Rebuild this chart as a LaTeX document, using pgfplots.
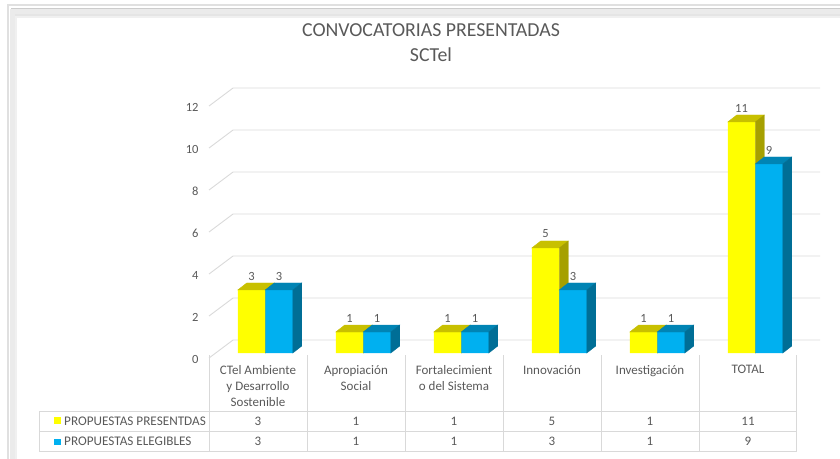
\documentclass[border=0pt]{standalone}
\usepackage{pgfplots}
\pgfplotsset{compat=1.18}
\usepackage{pgfplotstable}
\usepackage{fontspec}
\setmainfont{Carlito}
\definecolor{ylw}{HTML}{FFFF00}
\definecolor{ylwtop}{HTML}{C8C000}
\definecolor{ylwside}{HTML}{A6A000}
\definecolor{blu}{HTML}{00B0F0}
\definecolor{blutop}{HTML}{0084B4}
\definecolor{bluside}{HTML}{006E96}
\definecolor{txt}{HTML}{595959}
\definecolor{grd}{HTML}{D9D9D9}

\pgfplotstableread{
x pres eleg
0 3 3
1 1 1
2 1 1
3 5 3
4 1 1
5 11 9
}\data

\pgfdeclareplotmark{nothing}{}
\pgfplotsset{
  faces/.style n args={5}{%
    scatter, only marks, mark=nothing,
    visualization depends on={\thisrow{#1} \as \val},
    scatter/@pre marker code/.code={%
      \fill[#4] (#2pt,0pt) -- (#3pt,0pt) -- (#3pt+9pt,7pt) -- (#2pt+9pt,7pt) -- cycle;
      \fill[#5] (#3pt,0pt) -- (#3pt+9pt,7pt) -- (#3pt+9pt,7pt-\val*21pt) -- (#3pt,-\val*21pt) -- cycle;
    },
    scatter/@post marker code/.code={},
  },
  vlab/.style 2 args={nodes near coords, point meta=\thisrow{#1},
    every node near coord/.append style={anchor=center, xshift=#2, yshift=14pt, text=txt, font=\fontsize{12.5}{14}\selectfont}},
  rowlab/.style={only marks, mark=nothing, nodes near coords, point meta=\thisrow{#1},
    every node near coord/.append style={anchor=center, text=txt, font=\fontsize{13}{15}\selectfont}},
}

\begin{document}
\begin{tikzpicture}[x=1pt,y=1pt]
\useasboundingbox (0,0) rectangle (840,458);
% chart frame (cropped on right and bottom)
\draw[black!12, line width=1.6pt] (8,-5) -- (8,453) -- (845,453);
\draw[black!6, line width=2pt] (16,-5) -- (16,441) -- (845,441);
\draw[black!10, line width=2pt] (14,-5) -- (14,443) -- (845,443);
\draw[black!20, line width=1.2pt] (12,-5) -- (12,449.5) -- (845,449.5);
\draw[black!8, line width=5pt] (12,-5) -- (12,446.5) -- (845,446.5);
% title
\node[text=txt, font=\fontsize{19.8}{21}\selectfont] at (431,428) {CONVOCATORIAS PRESENTADAS};
\node[text=txt, font=\fontsize{19.8}{21}\selectfont] at (431,403) {SCTel};

\begin{axis}[
  at={(209pt,105pt)}, anchor=south west,
  scale only axis, width=588pt, height=252pt,
  xmin=-0.5, xmax=5.5, ymin=0, ymax=12,
  clip=false, clip marker paths=true,
  axis line style={draw=none},
  ytick={0,2,...,12},
  xtick={0,...,5},
  xticklabels={{CTel Ambiente\\y Desarrollo\\Sostenible},{Apropiación\\Social},{Fortalecimient\\o del Sistema},Innovación,Investigación,TOTAL},
  tick style={draw=none},
  /pgf/number format/assume math mode=true,
  yticklabel style={text=txt, font=\fontsize{12.5}{14}\selectfont, xshift=-7pt, yshift=-6pt},
  xticklabel style={text=txt, font=\fontsize{13}{16}\selectfont, anchor=north, align=center, yshift=-9pt},
]
% floor / wall grid
\pgfplotsinvokeforeach{0,2,...,12}{
  \draw[grd, line width=0.9pt] ([yshift=-5pt]axis cs:-0.5,#1) -- ([xshift=24pt,yshift=13pt]axis cs:-0.5,#1) -- ([xshift=23pt,yshift=13pt]axis cs:5.5,#1);
}
% yellow series
\addplot[ybar, bar width=27.5pt, bar shift=-6.5pt, fill=ylw, draw=none, vlab={pres}{-6.5pt}] table[x=x,y=pres]{\data};
\addplot[faces={pres}{-20.25}{7.25}{ylwtop}{ylwside}] table[x=x,y=pres]{\data};
% blue series
\addplot[ybar, bar width=27.5pt, bar shift=21pt, fill=blu, draw=none, vlab={eleg}{21pt}] table[x=x,y=eleg]{\data};
\addplot[faces={eleg}{7.25}{34.75}{blutop}{bluside}] table[x=x,y=eleg]{\data};
% data table rows
\addplot[rowlab=pres] table[x=x, y expr=-3.24]{\data};
\addplot[rowlab=eleg] table[x=x, y expr=-4.19]{\data};
\end{axis}

% data table grid
\foreach \yy in {46.5,26.5,6.5} \draw[grd, line width=0.9pt] (39,\yy) -- (796,\yy);
\foreach \xx in {209,307,405,503,601,699,796} \draw[grd, line width=0.9pt] (\xx,103) -- (\xx,6.5);
\draw[grd, line width=0.9pt] (39,46.5) -- (39,6.5);
% legend keys
\fill[ylw] (54,34) rectangle (61,41);
\fill[blu] (54,13) rectangle (61,19.5);
\node[anchor=west, inner sep=0pt, text=txt, font=\fontsize{13.2}{15}\selectfont] at (64,37) {PROPUESTAS PRESENTDAS};
\node[anchor=west, inner sep=0pt, text=txt, font=\fontsize{13.2}{15}\selectfont] at (64,17) {PROPUESTAS ELEGIBLES};
\end{tikzpicture}
\end{document}
